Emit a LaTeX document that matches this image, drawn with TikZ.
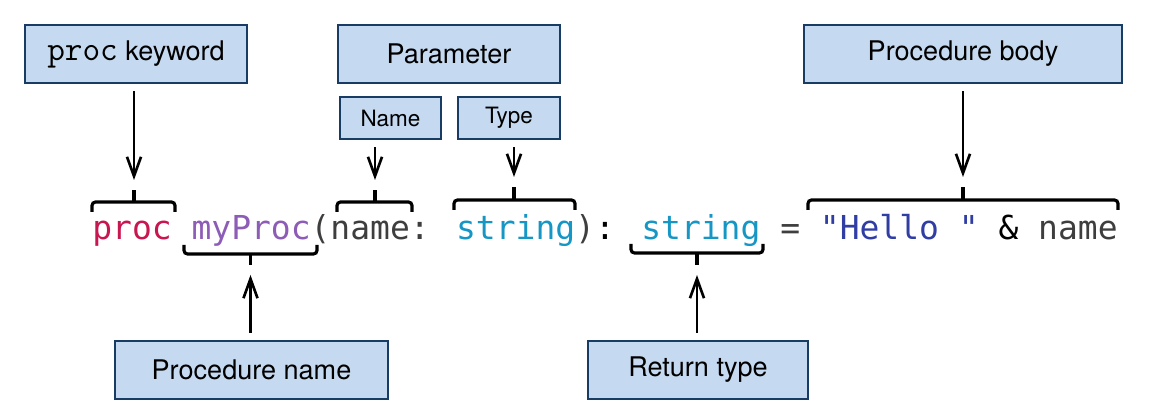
\documentclass[tikz,border=0pt]{standalone}
\usepackage{fontspec}
\setmainfont{TeX Gyre Heros}
\newfontfamily\codefont{DejaVu Sans Mono}
\usetikzlibrary{arrows.meta}

\definecolor{boxfill}{RGB}{197,218,240}
\definecolor{boxline}{RGB}{25,60,100}
\definecolor{kwred}{RGB}{200,22,80}
\definecolor{procviolet}{RGB}{140,92,182}
\definecolor{codegray}{RGB}{62,62,62}
\definecolor{typeblue}{RGB}{22,150,196}
\definecolor{strblue}{RGB}{48,62,164}

\begin{document}
\begin{tikzpicture}[x=0.02cm,y=-0.02cm,
    labelbox/.style={draw=boxline,fill=boxfill,line width=1.1pt,inner sep=0pt,
        minimum height=1.16cm,font=\fontsize{15.4}{18}\selectfont},
    smallbox/.style={labelbox,minimum height=0.84cm,font=\fontsize{12.8}{15}\selectfont},
    pointer/.style={-{Straight Barb[length=11pt,width=8pt]},line width=1.5pt,
        shorten <=0.15cm,shorten >=0.2cm},
    bracket/.style={line width=1.8pt,rounded corners=2pt}]
    \useasboundingbox (0,0) rectangle (1154,418);
    % labels
    \node[labelbox,minimum width=4.44cm] (kwbox) at (136,54)
        {{\ttfamily\fontsize{19.5}{20}\selectfont proc} keyword};
    \node[labelbox,minimum width=4.44cm] (parbox) at (449,54) {Parameter};
    \node[smallbox,minimum width=2.02cm] (namebox) at (390.5,118) {Name};
    \node[smallbox,minimum width=2.04cm] (typebox) at (509,118) {Type};
    \node[labelbox,minimum width=6.36cm] (bodybox) at (963,54) {Procedure body};
    \node[labelbox,minimum width=5.46cm] (pnamebox) at (251.5,370) {Procedure name};
    \node[labelbox,minimum width=4.4cm] (rtypebox) at (698,370) {Return type};
    % the code line
    \node[anchor=base west,inner sep=0pt,font=\codefont\fontsize{18.76}{20}\selectfont] (code) at (92,240)
        {\textcolor{kwred}{proc} \textcolor{procviolet}{myProc}\textcolor{codegray}{(name:} \textcolor{typeblue}{string}\textcolor{codegray}{)}: \textcolor{typeblue}{string} \textcolor{codegray}{=} \textcolor{strblue}{"Hello "} \& \textcolor{codegray}{name}};
    % bracket ticks
    \coordinate (kwtick) at (134,190);
    \coordinate (nametick) at (375,190);
    \coordinate (typetick) at (514,187);
    \coordinate (bodytick) at (963,187);
    \coordinate (pnametick) at (250.5,265);
    \coordinate (rtypetick) at (697,265);
    \draw[bracket] (92,212) |- (134,202) -| (175,212);
    \draw[bracket] (134,202) -- (kwtick);
    \draw[bracket] (337,212) |- (375,202) -| (412,212);
    \draw[bracket] (375,202) -- (nametick);
    \draw[bracket] (454,210) |- (514,200) -| (575,210);
    \draw[bracket] (514,200) -- (typetick);
    \draw[bracket] (808,210) |- (963,200) -| (1118,210);
    \draw[bracket] (963,200) -- (bodytick);
    \draw[bracket] (184,245) |- (250.5,254) -| (317,245);
    \draw[bracket] (250.5,254) -- (pnametick);
    \draw[bracket] (631,244) |- (697,253) -| (763,244);
    \draw[bracket] (697,253) -- (rtypetick);
    % arrows
    \draw[pointer] (kwbox.south -| kwtick) -- (kwtick);
    \draw[pointer] (namebox.south -| nametick) -- (nametick);
    \draw[pointer] (typebox.south -| typetick) -- (typetick);
    \draw[pointer] (bodybox.south -| bodytick) -- (bodytick);
    \draw[pointer] (pnamebox.north -| pnametick) -- (pnametick);
    \draw[pointer] (rtypebox.north -| rtypetick) -- (rtypetick);
\end{tikzpicture}
\end{document}
